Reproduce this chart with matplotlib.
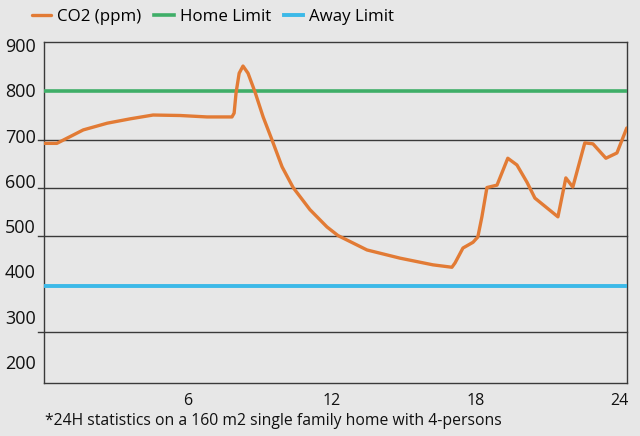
import matplotlib
matplotlib.use('Agg')
import matplotlib.pyplot as plt
import numpy as np

# hours of the day and CO2 readings (ppm)
hours = [0.0, 0.53, 1.63, 2.63, 3.58, 4.54, 5.67, 6.79, 7.83, 7.92, 8.0, 8.13,
         8.29, 8.5, 8.79, 9.13, 9.5, 9.92, 10.38, 11.08, 11.79, 12.25, 13.46,
         14.83, 16.21, 17.0, 17.13, 17.46, 17.88, 18.08, 18.25, 18.46, 18.88,
         19.33, 19.71, 20.13, 20.46, 21.42, 21.75, 22.04, 22.54, 22.88, 23.42,
         23.88, 24.29]
co2 = [692, 692, 720, 734, 743, 751, 750, 747, 747, 755, 797, 838,
       853, 838, 799, 747, 699, 643, 600, 554, 518, 500, 470,
       453, 439, 434, 443, 474, 486, 497, 539, 600, 605,
       661, 647, 611, 578, 539, 620, 601, 693, 691, 661,
       672, 724]

home_limit = 800
away_limit = 395

grid_values = [300, 500, 600, 700]
ytick_labels = ['900', '800', '700', '600', '500', '400', '300', '200']
xticks = [6, 12, 18, 24]

BG = '#e7e7e7'
ORANGE = '#e27b35'
GREEN = '#3fae68'
BLUE = '#3cb9e8'

plt.rcParams['font.family'] = ['Open Sans', 'DejaVu Sans']

fig = plt.figure(figsize=(6.4, 4.36), dpi=100, facecolor=BG)
ax = fig.add_axes([0.069, 0.1216, 0.9107, 0.782])
ax.set_facecolor(BG)
ax.set_xlim(0, 24.3)
ax.set_ylim(193, 903)

# grid lines with little left ticks
for v in grid_values:
    ax.plot([-0.011, 1], [v, v], color='#3a3a3a', lw=1.0,
            transform=ax.get_yaxis_transform(), clip_on=False, zorder=1)

l1, = ax.plot(hours, co2, color=ORANGE, lw=2.4, zorder=4, solid_capstyle='round',
              solid_joinstyle='round', label='CO2 (ppm)')
l2 = ax.axhline(home_limit, color=GREEN, lw=2.6, zorder=3, label='Home Limit')
l3 = ax.axhline(away_limit, color=BLUE, lw=2.8, zorder=3, label='Away Limit')

for s in ax.spines.values():
    s.set_color('#3a3a3a')
    s.set_linewidth(1.0)

# y labels sit evenly spaced (like the original artwork), a bit off the grid
label_frac = np.linspace(0.991, 0.062, len(ytick_labels))
ax.set_yticks(193 + label_frac * 710, ytick_labels)
ax.tick_params(axis='y', length=0, pad=6, labelsize=13, labelcolor='#111')
ax.set_xticks(xticks, [str(x) for x in xticks])
ax.tick_params(axis='x', length=0, pad=7, labelsize=11.5, labelcolor='#111')

fig.legend(handles=[l1, l2, l3], loc='center left', bbox_to_anchor=(0.05, 0.961),
           ncol=3, frameon=False, fontsize=12.2, handlelength=1.15,
           handletextpad=0.35, columnspacing=0.75, borderpad=0, borderaxespad=0)

fig.text(0.07, 0.034, '*24H statistics on a 160 m2 single family home with 4-persons',
         fontsize=11.3, color='#111', va='center', ha='left')

fig.savefig('out.png', dpi=100, facecolor=BG)
